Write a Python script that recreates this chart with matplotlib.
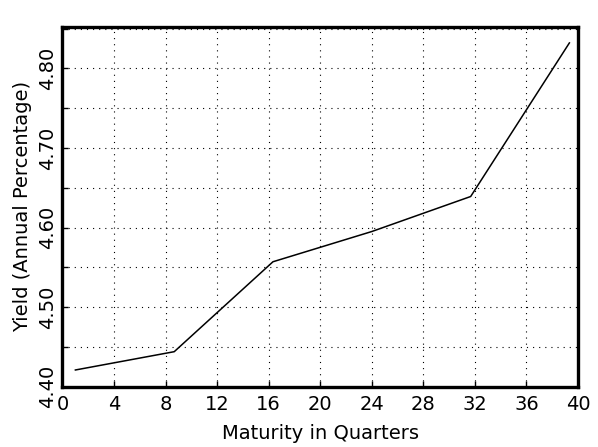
import numpy as np
import matplotlib
matplotlib.use("Agg")
import matplotlib.pyplot as plt
from matplotlib.ticker import MultipleLocator, FormatStrFormatter

# yield curve
maturity = [1.0, 8.67, 16.33, 24.0, 31.67, 39.33]
yield_pct = [4.421, 4.444, 4.557, 4.595, 4.639, 4.832]

x_ticks = list(range(0, 41, 4))
y_ticks = [4.40, 4.50, 4.60, 4.70, 4.80]

plt.rcParams["font.family"] = "DejaVu Sans"
plt.rcParams["font.size"] = 14

fig = plt.figure(figsize=(5.98, 4.47), dpi=100)
ax = fig.add_axes([0.1045, 0.1349, 0.8621, 0.8047])

ax.plot(maturity, yield_pct, color="black", linewidth=1.1)

ax.set_xlim(0, 40)
ax.set_ylim(4.40, 4.852)

ax.set_xticks(x_ticks)
ax.set_xticklabels([str(v) for v in x_ticks])
ax.yaxis.set_major_locator(MultipleLocator(0.10))
ax.yaxis.set_minor_locator(MultipleLocator(0.05))
ax.yaxis.set_major_formatter(FormatStrFormatter("%.2f"))

for lbl in ax.get_yticklabels():
    lbl.set_rotation(90)
    lbl.set_va("center")

ax.tick_params(axis="both", which="both", direction="in", color="black",
               length=4, width=1.0)
ax.tick_params(axis="x", labelsize=14, pad=6)
ax.tick_params(axis="y", labelsize=14, pad=4)

ax.grid(True, which="both", color="black", linestyle=(0, (1, 4.5)), linewidth=0.8)

for s in ax.spines.values():
    s.set_linewidth(2.4)

ax.set_xlabel("Maturity in Quarters", fontsize=14, labelpad=7)
ax.set_ylabel("Yield (Annual Percentage)", fontsize=14, labelpad=4)

fig.savefig("out.png", dpi=100)
